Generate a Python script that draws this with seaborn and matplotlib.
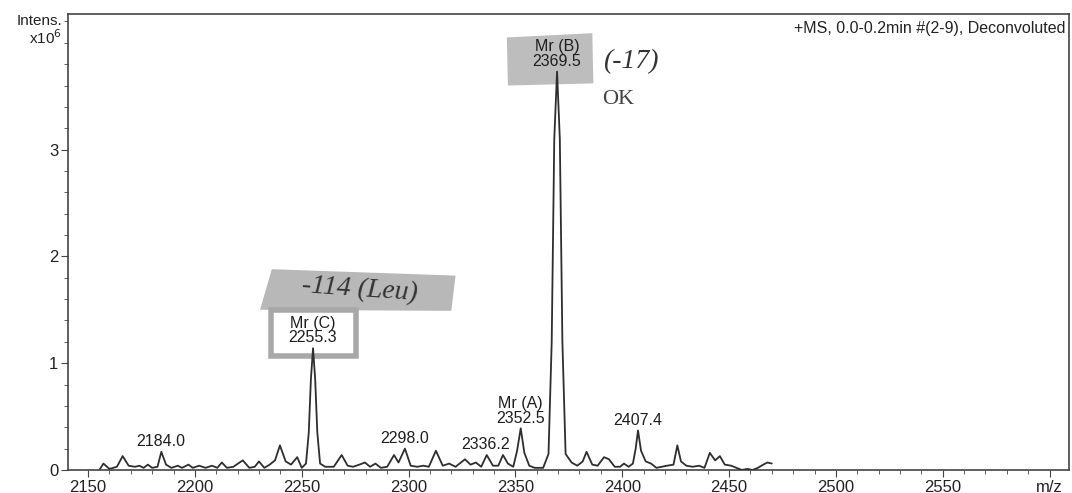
import numpy as np
import pandas as pd
import matplotlib
matplotlib.use("Agg")
import matplotlib.pyplot as plt
from matplotlib.patches import Polygon, Rectangle
from matplotlib.ticker import MultipleLocator, FixedLocator
import seaborn as sns

# spectrum trace (m/z, intensity in units of 1e6)
mz = [2155.6, 2157.2, 2160, 2163.5, 2166.2, 2169, 2172, 2174, 2176, 2178, 2180,
      2182.5, 2184.3, 2186.5, 2189, 2192, 2194, 2197, 2199, 2202, 2205, 2208, 2210.5,
      2212.6, 2215, 2218, 2222.4, 2225.5, 2228, 2230, 2232.5, 2235, 2237.5, 2239.8,
      2242.5, 2245, 2247.9, 2250, 2252, 2253.3, 2254.3, 2255.3, 2256.3, 2257.3, 2258.6,
      2261, 2265, 2268.7, 2271.5, 2274, 2277, 2279.6, 2282, 2284.5, 2287, 2290,
      2293.2, 2295.3, 2298.3, 2301, 2304, 2307, 2309.5, 2312.8, 2316, 2319, 2322,
      2326.4, 2329, 2331.5, 2334, 2336.6, 2339.5, 2342, 2344.2, 2346.5, 2349, 2350.8,
      2352.5, 2354.2, 2356.5, 2359, 2363, 2365.5, 2367, 2368.2, 2369.5, 2370.8, 2372,
      2373.5, 2376.3, 2379, 2381.5, 2383.3, 2386, 2388.5, 2391.5, 2393.8, 2396.5,
      2399, 2400.8, 2403, 2405, 2406.3, 2407.4, 2408.8, 2411, 2413.5, 2416, 2418.5,
      2421, 2424, 2425.8, 2427.5, 2430, 2433, 2436, 2438.5, 2441, 2443.5, 2445.7,
      2448, 2451, 2453.5, 2456, 2458.5, 2461, 2463.5, 2466, 2468, 2470]
intensity = [0.01, 0.06, 0.01, 0.03, 0.13, 0.04, 0.03, 0.04, 0.02, 0.05, 0.02,
             0.03, 0.17, 0.05, 0.02, 0.04, 0.02, 0.05, 0.02, 0.04, 0.02, 0.04, 0.02,
             0.07, 0.02, 0.03, 0.09, 0.02, 0.03, 0.08, 0.02, 0.05, 0.09, 0.23,
             0.08, 0.05, 0.12, 0.02, 0.06, 0.35, 0.85, 1.14, 0.85, 0.35, 0.06,
             0.03, 0.03, 0.14, 0.04, 0.03, 0.05, 0.07, 0.03, 0.06, 0.02, 0.03,
             0.14, 0.07, 0.20, 0.04, 0.03, 0.04, 0.03, 0.18, 0.04, 0.06, 0.03,
             0.10, 0.05, 0.07, 0.03, 0.14, 0.04, 0.04, 0.14, 0.06, 0.03, 0.18,
             0.39, 0.16, 0.04, 0.02, 0.02, 0.15, 1.2, 3.1, 3.73, 3.1, 1.2,
             0.15, 0.07, 0.04, 0.08, 0.17, 0.05, 0.04, 0.12, 0.10, 0.03,
             0.03, 0.06, 0.03, 0.06, 0.20, 0.37, 0.18, 0.08, 0.06, 0.02, 0.03,
             0.04, 0.05, 0.23, 0.08, 0.04, 0.03, 0.04, 0.02, 0.16, 0.09, 0.13,
             0.05, 0.04, 0.02, 0.0, 0.01, 0.0, 0.02, 0.05, 0.07, 0.06]

# peak labels
peak_mz = [2184.0, 2298.0, 2336.2, 2352.5, 2407.4, 2255.3, 2369.5]
peak_int = [0.17, 0.20, 0.14, 0.39, 0.37, 1.14, 3.73]
peak_text = ["2184.0", "2298.0", "2336.2", "Mr (A)\n2352.5", "2407.4",
             "Mr (C)\n2255.3", "Mr (B)\n2369.5"]

# axis ticks
x_ticks = [2150, 2200, 2250, 2300, 2350, 2400, 2450, 2500, 2550, 2600]
x_labels = ["2150", "2200", "2250", "2300", "2350", "2400", "2450", "2500", "2550", "m/z"]
y_ticks = [0, 1, 2, 3]

df = pd.DataFrame({"mz": mz, "intensity": intensity})

sns.set_style("ticks")
plt.rcParams["font.family"] = ["Liberation Sans", "DejaVu Sans"]

fig = plt.figure(figsize=(10.72, 4.93), dpi=100)
ax = fig.add_axes([0.0634, 0.0467, 0.9336, 0.925])

ink = "#2e2e2e"
sns.lineplot(data=df, x="mz", y="intensity", ax=ax, color=ink, linewidth=1.3,
             zorder=3, estimator=None, sort=False)

ax.set_xlim(2140.6, 2609)
ax.set_ylim(0, 4.27)
ax.xaxis.set_major_locator(FixedLocator(x_ticks))
ax.set_xticklabels(x_labels)
ax.xaxis.set_minor_locator(MultipleLocator(10))
ax.yaxis.set_major_locator(FixedLocator(y_ticks))
ax.yaxis.set_minor_locator(MultipleLocator(0.2))
ax.tick_params(which="both", direction="out", color="#444444", labelsize=12,
               labelcolor="#222222", pad=2)
ax.tick_params(which="major", length=5)
ax.tick_params(which="minor", length=3)
for s in ax.spines.values():
    s.set_color("#444444")
    s.set_linewidth(1.2)
ax.set_xlabel("")
ax.set_ylabel("")

# axis captions
ax.text(-0.006, 1.0, "Intens.\nx10$^6$", transform=ax.transAxes, ha="right",
        va="top", fontsize=11, color="#222222", linespacing=1.05)
ax.text(0.997, 0.985, "+MS, 0.0-0.2min #(2-9), Deconvoluted",
        transform=ax.transAxes, ha="right", va="top", fontsize=11.5, color="#222222")

# grey tape and white box from the printout
ax.add_patch(Polygon([[2346, 4.05], [2386, 4.09], [2386.5, 3.62], [2346.5, 3.60]],
                     closed=True, facecolor="#bdbdbd", edgecolor="none", zorder=1))
ax.add_patch(Polygon([[2236, 1.88], [2322, 1.82], [2320, 1.49], [2230.5, 1.50]],
                     closed=True, facecolor="#b8b8b8", edgecolor="none", zorder=1))
ax.add_patch(Rectangle((2235.5, 1.07), 40, 0.43, facecolor="white",
                       edgecolor="#a8a8a8", linewidth=4, zorder=2))

for x, y, t in zip(peak_mz, peak_int, peak_text):
    ax.annotate(t, (x, y), xytext=(0, 2), textcoords="offset points",
                ha="center", va="bottom", fontsize=11.5, color="#1e1e1e",
                linespacing=0.95, zorder=4)

# handwritten notes
ax.text(2277, 1.69, "-114 (Leu)", ha="center", va="center", fontsize=20,
        style="italic", family="Liberation Serif", color="#333333", rotation=-4,
        zorder=2)
ax.text(2404, 3.82, "(-17)", ha="center", va="center", fontsize=20,
        style="italic", family="Liberation Serif", color="#333333", zorder=2)
ax.text(2398, 3.47, "OK", ha="center", va="center", fontsize=16,
        family="Liberation Serif", color="#444444", zorder=2)

fig.savefig("out.png", dpi=100, facecolor="white")
